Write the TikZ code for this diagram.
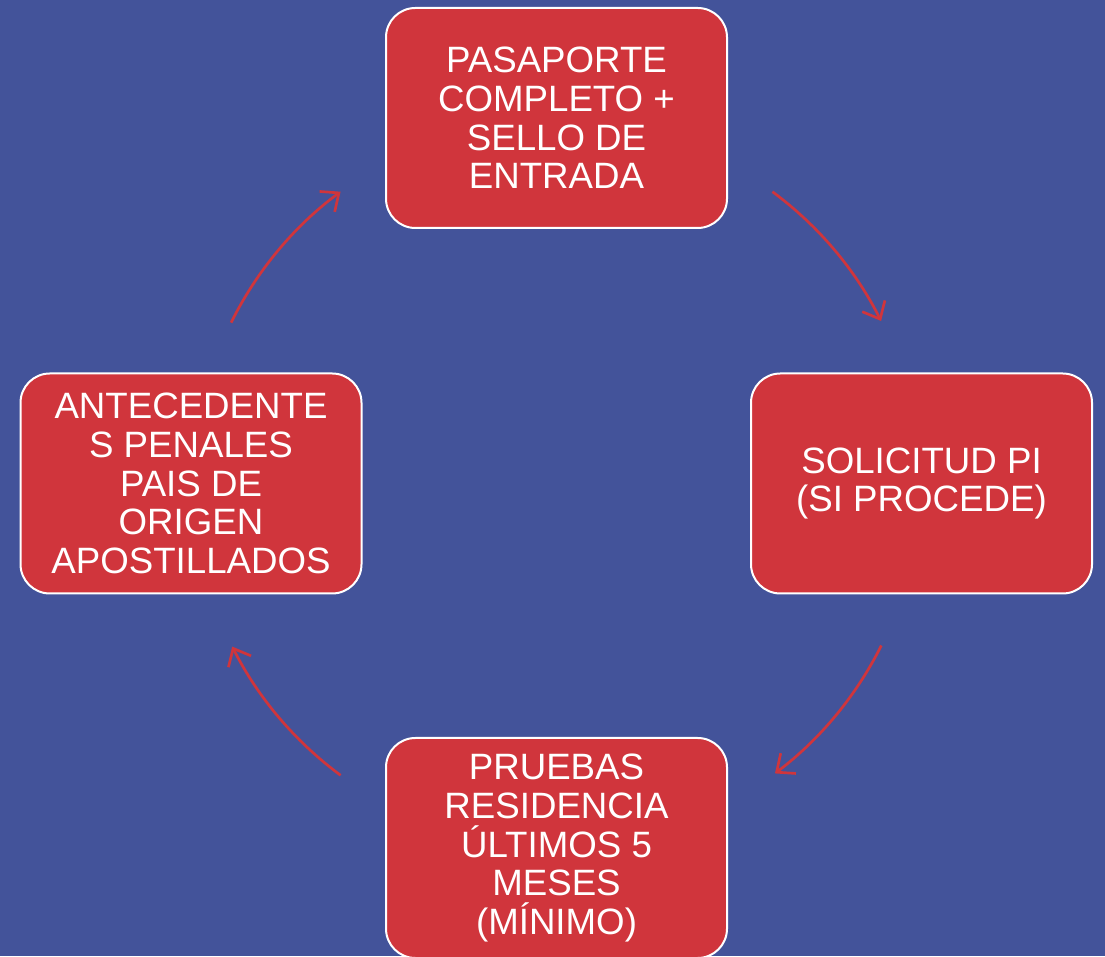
\documentclass[tikz,border=0pt]{standalone}
\usepackage{fontspec}
\setmainfont{Liberation Sans}
\usetikzlibrary{arrows.meta}
\definecolor{bgblue}{RGB}{67,83,154}
\definecolor{boxred}{RGB}{208,53,60}
\tikzset{
  stepbox/.style={draw=white, line width=1.5pt, fill=boxred, rounded corners=22pt,
    minimum width=255.75pt, minimum height=165pt, inner sep=0pt, align=center,
    text=white, font=\fontsize{27.5pt}{29pt}\selectfont},
  cyclearrow/.style={draw=boxred, line width=2pt,
    -{Straight Barb[length=11pt,width=19pt,line width=2pt]}}
}
\begin{document}
\begin{tikzpicture}[x=0.75pt,y=0.75pt]
\fill[bgblue] (0,0) rectangle (1105,956);
\useasboundingbox (0,0) rectangle (1105,956);
\coordinate (ctr) at (556.5,472.5);
\node[stepbox] (top) at (556.5,838) {PASAPORTE\\COMPLETO +\\SELLO DE\\ENTRADA};
\node[stepbox] (right) at (921.5,472.5) {SOLICITUD PI\\(SI PROCEDE)};
\node[stepbox] (bottom) at (556.5,108) {PRUEBAS\\RESIDENCIA\\ÚLTIMOS 5\\MESES\\(MÍNIMO)};
\node[stepbox] (left) at (191,472.5) {ANTECEDENTE\\S PENALES\\PAIS DE\\ORIGEN\\APOSTILLADOS};
\coordinate (a1) at ([shift={(153.7:272.25pt)}]ctr);
\coordinate (a2) at ([shift={(53.5:272.25pt)}]ctr);
\coordinate (a3) at ([shift={(-26.5:272.25pt)}]ctr);
\coordinate (a4) at ([shift={(233.5:272.25pt)}]ctr);
\draw[cyclearrow] (a1) arc[start angle=153.7, end angle=126.5, radius=272.25pt];
\draw[cyclearrow] (a2) arc[start angle=53.5, end angle=26.6, radius=272.25pt];
\draw[cyclearrow] (a3) arc[start angle=-26.5, end angle=-53, radius=272.25pt];
\draw[cyclearrow] (a4) arc[start angle=233.5, end angle=206.7, radius=272.25pt];
\end{tikzpicture}
\end{document}
